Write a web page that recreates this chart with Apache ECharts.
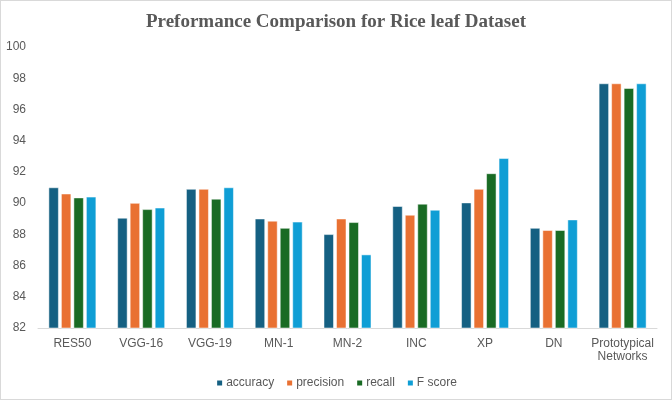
<!DOCTYPE html>
<html>
<head>
<meta charset="utf-8">
<script src="https://cdn.jsdelivr.net/npm/echarts@6/dist/echarts.min.js"></script>
<style>
  html, body { margin: 0; padding: 0; background: #fff; }
  #chart { width: 670px; height: 398px; border: 1px solid #d9d9d9; }
</style>
</head>
<body>
<div id="chart"></div>
<script>
// models on the x axis
const models = ["RES50", "VGG-16", "VGG-19", "MN-1", "MN-2", "INC", "XP", "DN", "Prototypical\nNetworks"];
const accuracy = [91.0, 89.05, 90.9, 89.0, 88.0, 89.8, 90.03, 88.4, 97.66];
const precision = [90.6, 90.0, 90.9, 88.86, 89.0, 89.24, 90.9, 88.26, 97.66];
const recall = [90.35, 89.6, 90.27, 88.4, 88.77, 89.95, 91.9, 88.26, 97.36];
const fScore = [90.4, 89.7, 91.0, 88.8, 86.7, 89.56, 92.87, 88.94, 97.66];

const colors = ["#156082", "#E97132", "#196B24", "#0F9ED5"];

const chart = echarts.init(document.getElementById("chart"));

function bar(name, data) {
  return {
    name: name,
    type: "bar",
    data: data,
    barWidth: 10,
    barGap: "25%",
    itemStyle: { borderColor: "#fff", borderWidth: 0.5 },
  };
}

chart.setOption({
  animation: false,
  color: colors,
  title: {
    text: "Preformance Comparison for Rice leaf Dataset",
    left: "center",
    top: 7,
    textStyle: {
      fontFamily: "Liberation Serif",
      fontWeight: "bold",
      fontSize: 19,
      color: "#595959",
    },
  },
  legend: {
    bottom: 5,
    left: "center",
    icon: "rect",
    itemWidth: 7,
    itemHeight: 7,
    itemGap: 11,
    textStyle: { fontFamily: "Liberation Sans", fontSize: 12, color: "#595959", padding: [0, 0, 0, -2] },
  },
  grid: { left: 37, right: 14, top: 46, bottom: 71 },
  xAxis: {
    type: "category",
    data: models,
    axisLine: { lineStyle: { color: "#d9d9d9" } },
    axisTick: { show: false },
    axisLabel: {
      interval: 0,
      margin: 9,
      fontFamily: "Liberation Sans",
      fontSize: 12,
      color: "#595959",
      lineHeight: 13,
    },
  },
  yAxis: {
    type: "value",
    min: 82,
    max: 100,
    interval: 2,
    splitLine: { show: false },
    axisLine: { show: false },
    axisLabel: { fontFamily: "Liberation Sans", fontSize: 12, color: "#595959", margin: 12 },
  },
  series: [
    bar("accuracy", accuracy),
    bar("precision", precision),
    bar("recall", recall),
    bar("F score", fScore),
  ],
});
</script>
</body>
</html>
